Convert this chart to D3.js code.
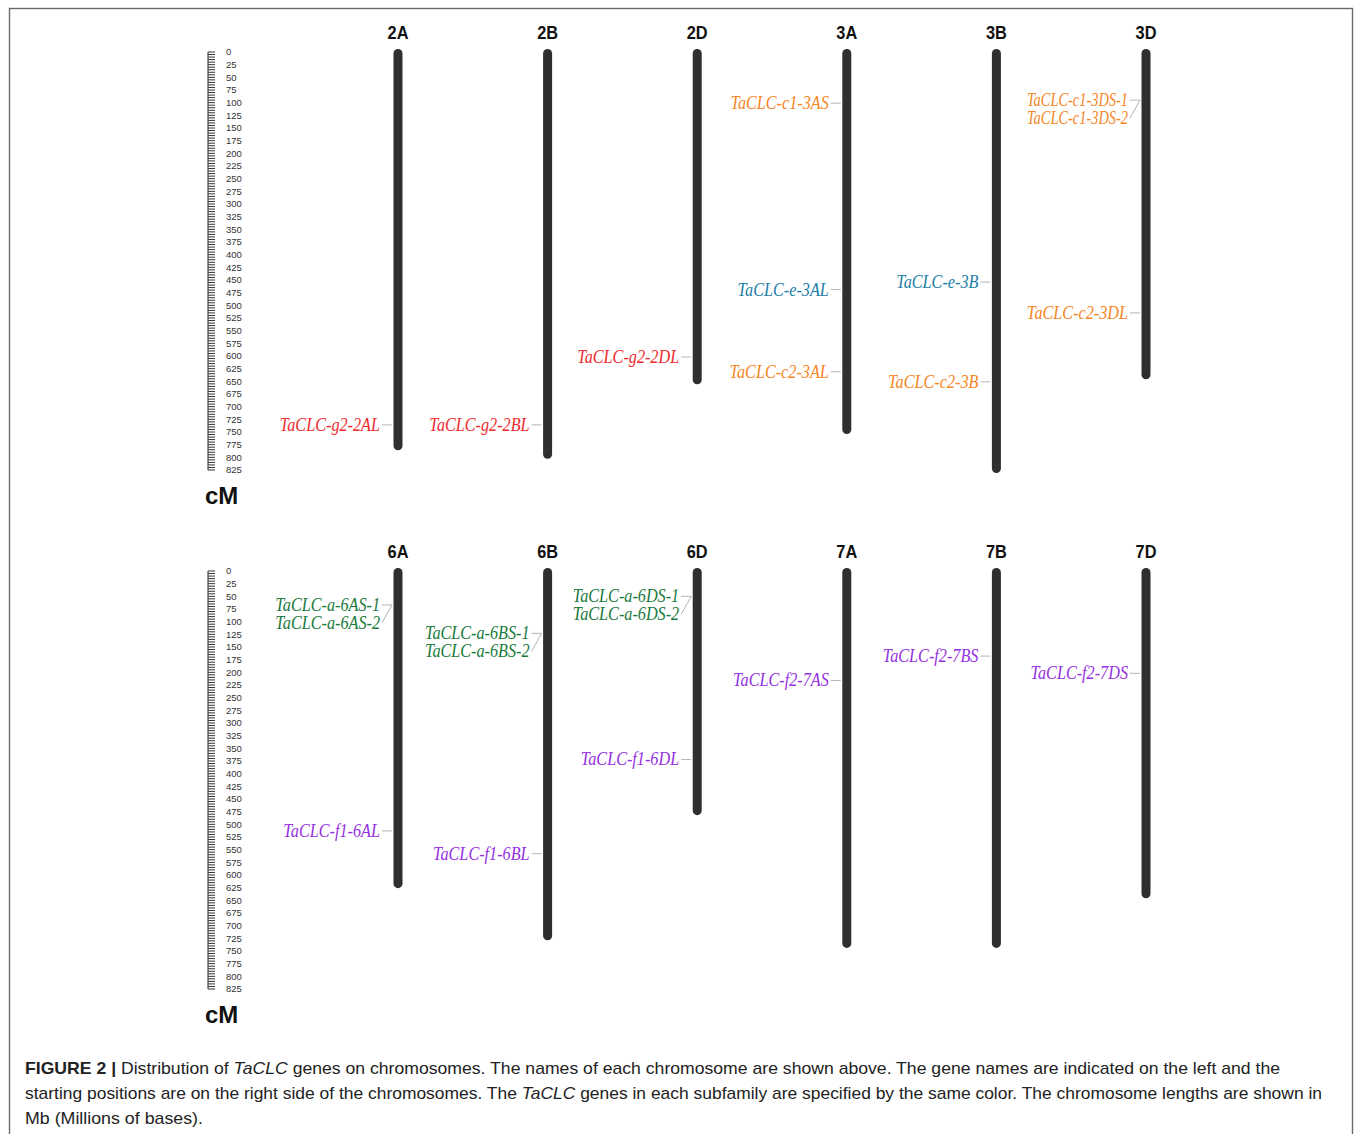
<!DOCTYPE html>
<html>
<head>
<meta charset="utf-8">
<script src="https://cdn.jsdelivr.net/npm/d3@7/dist/d3.min.js"></script>
<style>
body { margin: 0; background: #fff; }
</style>
</head>
<body>
<svg id="chart" width="1355" height="1134"></svg>
<script>
// chromosome names per panel and their lengths (Mb)
var topChroms = ["2A", "2B", "2D", "3A", "3B", "3D"];
var topLengths = [780, 797, 650, 748, 825, 640];
var bottomChroms = ["6A", "6B", "6D", "7A", "7B", "7D"];
var bottomLengths = [620, 723, 476, 738, 738, 640];

// genes: name, chromosome, position (Mb), subfamily
var geneNames = ["TaCLC-g2-2AL", "TaCLC-g2-2BL", "TaCLC-g2-2DL",
	"TaCLC-c1-3AS", "TaCLC-e-3AL", "TaCLC-c2-3AL",
	"TaCLC-e-3B", "TaCLC-c2-3B",
	"TaCLC-c1-3DS-1", "TaCLC-c1-3DS-2", "TaCLC-c2-3DL",
	"TaCLC-a-6AS-1", "TaCLC-a-6AS-2", "TaCLC-f1-6AL",
	"TaCLC-a-6BS-1", "TaCLC-a-6BS-2", "TaCLC-f1-6BL",
	"TaCLC-a-6DS-1", "TaCLC-a-6DS-2", "TaCLC-f1-6DL",
	"TaCLC-f2-7AS", "TaCLC-f2-7BS", "TaCLC-f2-7DS"];
var geneChroms = ["2A", "2B", "2D",
	"3A", "3A", "3A",
	"3B", "3B",
	"3D", "3D", "3D",
	"6A", "6A", "6A",
	"6B", "6B", "6B",
	"6D", "6D", "6D",
	"7A", "7B", "7D"];
var genePos = [736, 736, 602,
	101, 469, 631,
	454, 651,
	95, 95, 515,
	67, 67, 513,
	123, 123, 558,
	50, 50, 372,
	216, 168, 202];
var geneFamily = ["g2", "g2", "g2",
	"c1", "e", "c2",
	"e", "c2",
	"c1", "c1", "c2",
	"a", "a", "f1",
	"a", "a", "f1",
	"a", "a", "f1",
	"f2", "f2", "f2"];

var families = ["g2", "c1", "c2", "e", "a", "f1", "f2"];
var familyColors = ["#ee2a2e", "#f5861f", "#f5861f", "#1b7ea6", "#18793c", "#9430e0", "#9430e0"];

var rulerMax = 825;
var rulerStep = 25;
var rulerMinor = 5;

var svg = d3.select("#chart");
var W = +svg.attr("width"), H = +svg.attr("height");

// frame
svg.append("rect").attr("x", 9.5).attr("y", 8.5).attr("width", W - 12).attr("height", H + 20)
	.attr("fill", "none").attr("stroke", "#6b6b6b").attr("stroke-width", 1.4);

var color = d3.scaleOrdinal().domain(families).range(familyColors);

var x = d3.scalePoint().domain(d3.range(6)).range([398, 1146]);

var genes = geneNames.map(function(n, i){
	return {name: n, chrom: geneChroms[i], pos: genePos[i], fam: geneFamily[i]};
});

// squeeze text horizontally (the figure uses condensed faces)
function squeeze(sel, f){
	sel.each(function(){
		var w = this.getComputedTextLength();
		d3.select(this).attr("textLength", w * f).attr("lengthAdjust", "spacingAndGlyphs");
	});
}

function drawPanel(chroms, lengths, top){
	var y = d3.scaleLinear().domain([0, rulerMax]).range([top, top + 418]);
	var g = svg.append("g");

	// ruler
	var ruler = g.append("g");
	ruler.append("line").attr("x1", 208).attr("x2", 208).attr("y1", y(0)).attr("y2", y(rulerMax))
		.attr("stroke", "#222").attr("stroke-width", 1);
	ruler.selectAll(".minor").data(d3.range(0, rulerMax + 1, rulerMinor)).enter().append("line")
		.attr("x1", 208).attr("x2", 215)
		.attr("y1", function(d){ return y(d); }).attr("y2", function(d){ return y(d); })
		.attr("stroke", "#333").attr("stroke-width", 1);
	ruler.selectAll("text").data(d3.range(0, rulerMax + 1, rulerStep)).enter().append("text")
		.attr("x", 226).attr("y", function(d){ return y(d); }).attr("dy", "0.35em")
		.attr("font-family", "Liberation Sans, Arial, sans-serif").attr("font-size", 9.5)
		.attr("fill", "#333").text(function(d){ return d; });
	g.append("text").attr("x", 205).attr("y", y(rulerMax) + 34)
		.attr("font-family", "Liberation Sans, Arial, sans-serif").attr("font-weight", "bold")
		.attr("font-size", 24).attr("fill", "#111").text("cM");

	// chromosomes
	var chr = g.selectAll(".chr").data(chroms).enter().append("g");
	chr.append("rect")
		.attr("x", function(d, i){ return x(i) - 4.5; })
		.attr("y", y(0) - 3)
		.attr("width", 9).attr("rx", 4.5)
		.attr("height", function(d, i){ return y(lengths[i]) - y(0) + 6; })
		.attr("fill", "#302e2e");
	chr.append("text")
		.attr("x", function(d, i){ return x(i); }).attr("y", y(0) - 13)
		.attr("text-anchor", "middle")
		.attr("font-family", "Liberation Sans, Arial, sans-serif")
		.attr("font-weight", "bold").attr("font-size", 19).attr("fill", "#111")
		.text(function(d){ return d; })
		.call(squeeze, 0.86);

	// genes
	var pg = genes.filter(function(d){ return chroms.indexOf(d.chrom) >= 0; });
	pg.forEach(function(d){
		var cx = x(chroms.indexOf(d.chrom));
		var same = pg.filter(function(e){ return e.chrom == d.chrom && e.pos == d.pos; });
		var k = same.indexOf(d);
		var gy = y(d.pos);
		var ly = gy + k * 18;
		g.append("line").attr("x1", cx - 16).attr("y1", ly).attr("x2", cx - 6).attr("y2", gy)
			.attr("stroke", "#b5b5b5").attr("stroke-width", 1);
		g.append("text").attr("x", cx - 18).attr("y", ly).attr("dy", "0.33em")
			.attr("text-anchor", "end")
			.attr("font-family", "Liberation Serif, Times New Roman, serif")
			.attr("font-style", "italic").attr("font-size", 18)
			.attr("fill", color(d.fam)).text(d.name)
			.call(squeeze, same.length > 1 && d.chrom == "3D" ? 0.8 : 0.9);
	});
}

drawPanel(topChroms, topLengths, 52);
drawPanel(bottomChroms, bottomLengths, 571);

// caption
var cap = svg.append("g").attr("font-family", "Liberation Sans, Arial, sans-serif")
	.attr("font-size", 17).attr("fill", "#222");
var l1 = cap.append("text").attr("x", 25).attr("y", 1074).attr("textLength", 1255).attr("lengthAdjust", "spacingAndGlyphs");
l1.append("tspan").attr("font-weight", "bold").text("FIGURE 2 | ");
l1.append("tspan").text("Distribution of ");
l1.append("tspan").attr("font-style", "italic").text("TaCLC");
l1.append("tspan").text(" genes on chromosomes. The names of each chromosome are shown above. The gene names are indicated on the left and the");
var l2 = cap.append("text").attr("x", 25).attr("y", 1099).attr("textLength", 1297).attr("lengthAdjust", "spacingAndGlyphs");
l2.append("tspan").text("starting positions are on the right side of the chromosomes. The ");
l2.append("tspan").attr("font-style", "italic").text("TaCLC");
l2.append("tspan").text(" genes in each subfamily are specified by the same color. The chromosome lengths are shown in");
cap.append("text").attr("x", 25).attr("y", 1124).attr("textLength", 178).attr("lengthAdjust", "spacingAndGlyphs")
	.text("Mb (Millions of bases).");
</script>
</body>
</html>
